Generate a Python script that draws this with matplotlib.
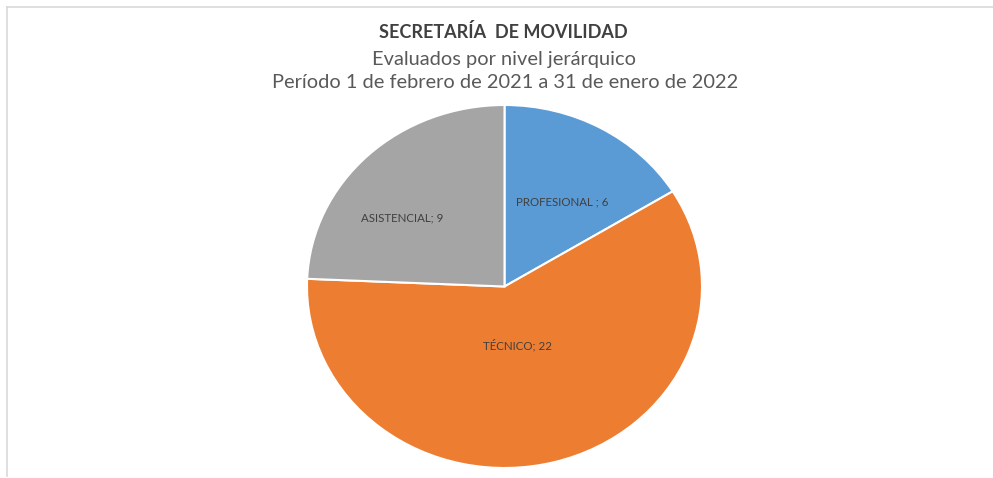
import matplotlib.pyplot as plt
from matplotlib.lines import Line2D
import numpy as np

# Evaluados por nivel jerárquico
niveles = ['PROFESIONAL ', 'TÉCNICO', 'ASISTENCIAL']
evaluados = [6, 22, 9]
colores = ['#5B9BD5', '#ED7D31', '#A5A5A5']

titulo = 'SECRETARÍA  DE MOVILIDAD'
subtitulo = 'Evaluados por nivel jerárquico'
periodo = 'Período 1 de febrero de 2021 a 31 de enero de 2022'

plt.rcParams['font.family'] = ['Lato', 'DejaVu Sans']

W, H = 993, 478
fig = plt.figure(figsize=(W / 100, H / 100), dpi=100)

# light chart-area border (top and left)
fig.add_artist(Line2D([7 / W, 1], [1 - 7 / H, 1 - 7 / H], color='#d9d9d9', lw=1.2))
fig.add_artist(Line2D([7 / W, 7 / W], [1 - 7 / H, 2 / H], color='#d9d9d9', lw=1.2))

# titles, placed by baseline
fig.text(503 / W, 1 - 38 / H, titulo, ha='center', va='baseline',
         fontsize=13, fontweight='bold', color='#404040')
fig.text(504 / W, 1 - 65 / H, subtitulo, ha='center', va='baseline',
         fontsize=14.4, color='#595959')
fig.text(505 / W, 1 - 88 / H, periodo, ha='center', va='baseline',
         fontsize=14.4, color='#595959')

# pie is stretched horizontally, so the axes box is not square
left, right, top, bottom = 307, 702, 105, 468
ax = fig.add_axes([left / W, 1 - bottom / H, (right - left) / W, (bottom - top) / H])
wedges, _ = ax.pie(evaluados, colors=colores, startangle=90, counterclock=False,
                   radius=1, wedgeprops=dict(edgecolor='white', linewidth=1.5))
ax.set_aspect('auto')
ax.set_xlim(-1, 1)
ax.set_ylim(-1, 1)

# data labels inside each slice
label_r = [0.55, 0.33, 0.64]
label_dtheta = [-3, -3.5, 10]
for w, nombre, n, r, dt in zip(wedges, niveles, evaluados, label_r, label_dtheta):
    theta = np.deg2rad((w.theta1 + w.theta2) / 2 + dt)
    ax.text(r * np.cos(theta), r * np.sin(theta), f'{nombre}; {n}',
            ha='center', va='center', fontsize=8.3, color='#404040')

fig.savefig('out.png', dpi=100, facecolor='white')
